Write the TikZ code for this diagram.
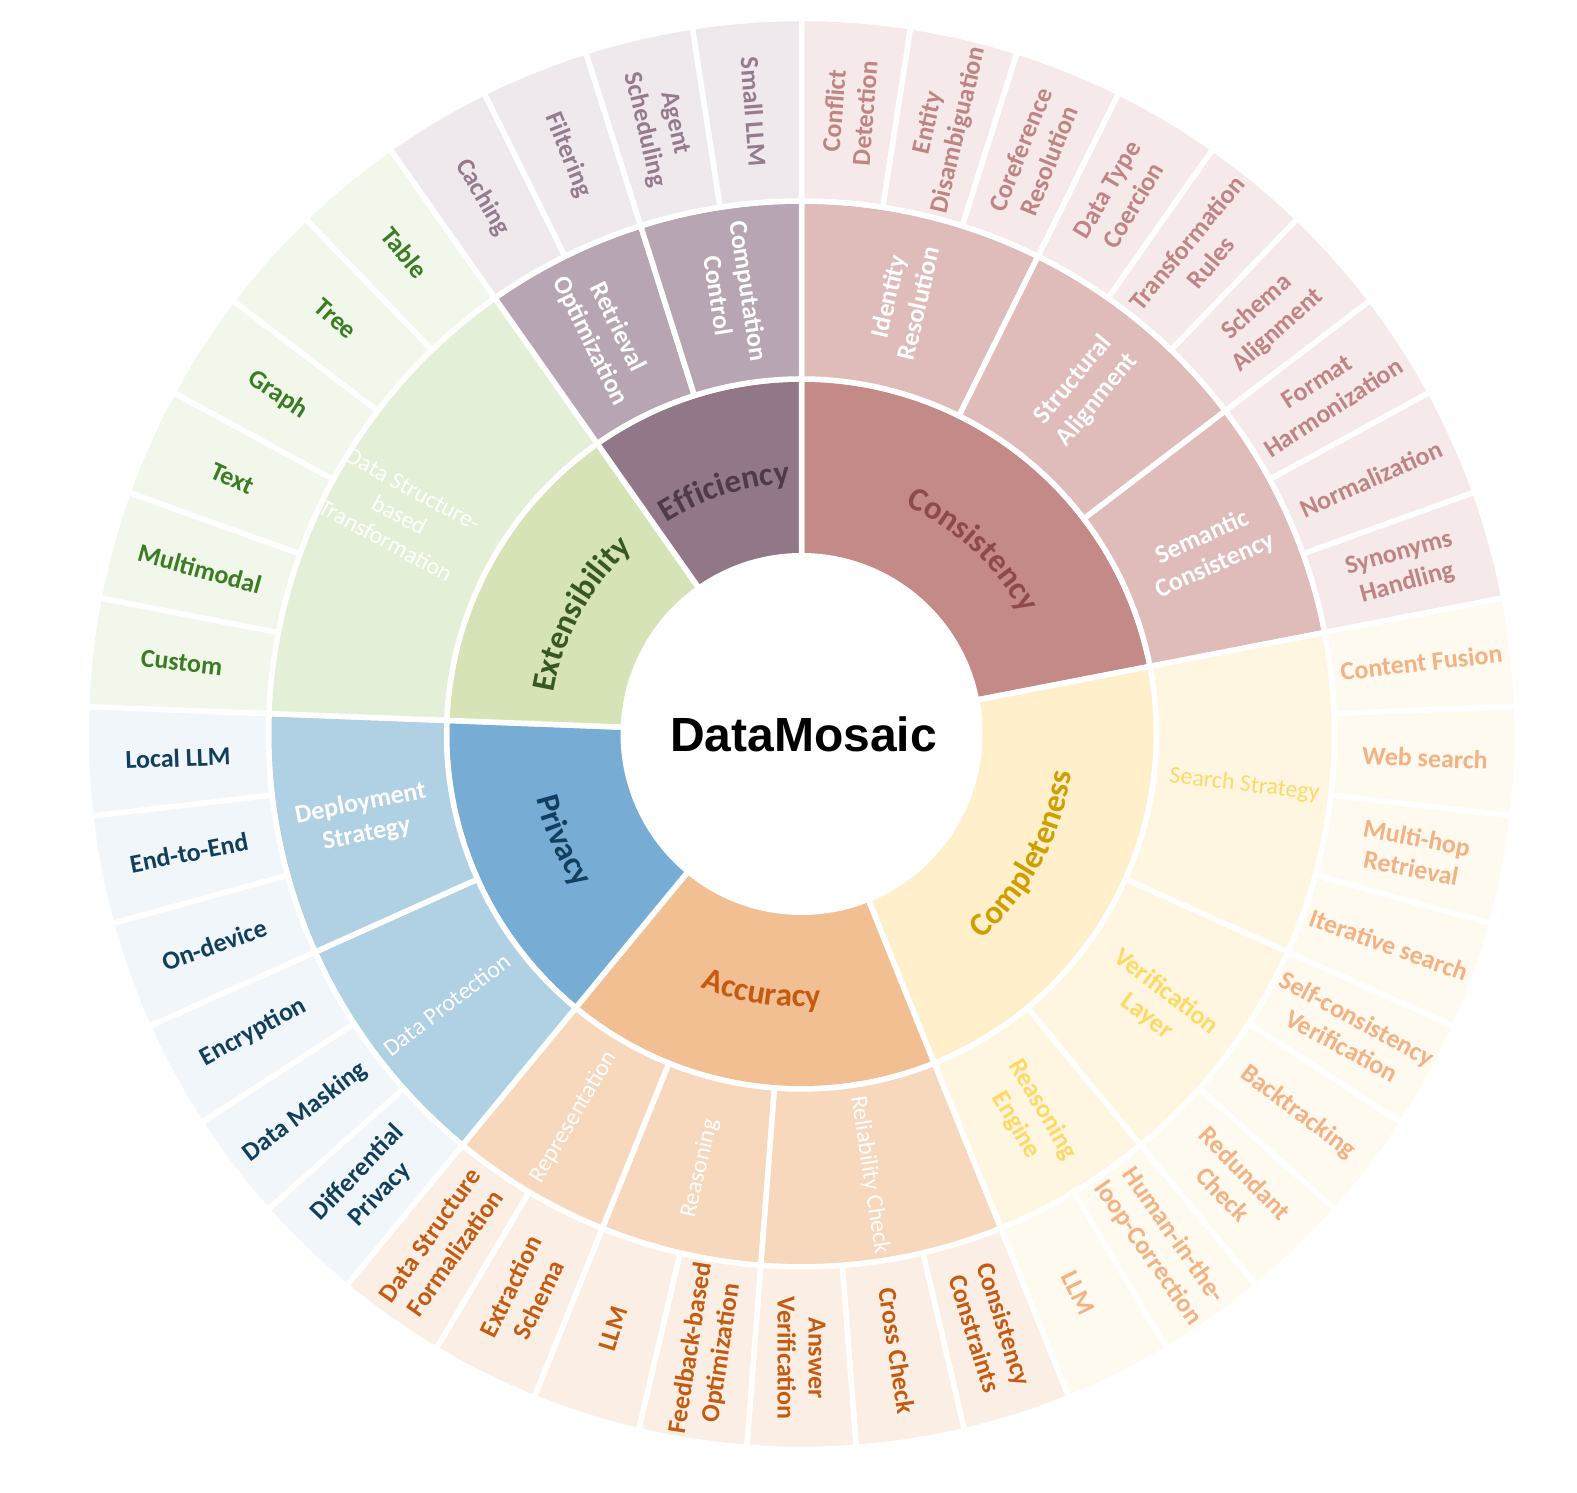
\documentclass[tikz,border=0pt]{standalone}
\usepackage{fontspec}
\setmainfont{Carlito}
\newfontfamily\titlefont{Liberation Sans}
\usetikzlibrary{decorations.text}

% Consistency
\definecolor{conA}{HTML}{C48A88}\definecolor{conB}{HTML}{DFBBBA}\definecolor{conC}{HTML}{F5E9E9}
\definecolor{conT}{HTML}{C08484}\definecolor{conS}{HTML}{FFFFFF}\definecolor{conK}{HTML}{8E4A4A}
% Completeness
\definecolor{comA}{HTML}{FFF0CB}\definecolor{comB}{HTML}{FFF6E1}\definecolor{comC}{HTML}{FFFAEF}
\definecolor{comT}{HTML}{F4B183}\definecolor{comS}{HTML}{FFD966}\definecolor{comK}{HTML}{D09E00}
% Accuracy
\definecolor{accA}{HTML}{F2BF93}\definecolor{accB}{HTML}{F7D8BD}\definecolor{accC}{HTML}{FBEEE5}
\definecolor{accT}{HTML}{C55A11}\definecolor{accS}{HTML}{FFFFFF}\definecolor{accK}{HTML}{C55A11}
% Privacy
\definecolor{priA}{HTML}{77ADD5}\definecolor{priB}{HTML}{B0D0E4}\definecolor{priC}{HTML}{F0F6FA}
\definecolor{priT}{HTML}{123F5E}\definecolor{priS}{HTML}{FFFFFF}\definecolor{priK}{HTML}{123F5E}
% Extensibility
\definecolor{extA}{HTML}{D5E3B6}\definecolor{extB}{HTML}{E3EFD7}\definecolor{extC}{HTML}{F1F7EB}
\definecolor{extT}{HTML}{3A7D22}\definecolor{extS}{HTML}{FFFFFF}\definecolor{extK}{HTML}{385723}
% Efficiency
\definecolor{effA}{HTML}{927789}\definecolor{effB}{HTML}{B8A5B3}\definecolor{effC}{HTML}{EFE9EE}
\definecolor{effT}{HTML}{957B8F}\definecolor{effS}{HTML}{FFFFFF}\definecolor{effK}{HTML}{4E3A49}

\newcommand{\catfont}{\bfseries\fontsize{33}{40}\selectfont}

\tikzset{
  wedgebox/.style={draw=white, line width=5.5pt, line join=round},
  leaflabel/.style={font=\bfseries\fontsize{26}{31}\selectfont, align=center, inner sep=0pt},
  subbold/.style={font=\bfseries\fontsize{26}{31}\selectfont, align=center, inner sep=0pt},
  subreg/.style={font=\fontsize{24}{29}\selectfont, align=center, inner sep=0pt},
  titlelabel/.style={font=\titlefont\bfseries\fontsize{48}{48}\selectfont, inner sep=0pt}
}

% wedge: start, end (in leaf units), r in, r out, fill colour
\newcommand{\sbwedge}[5]{%
  \pgfmathsetmacro\sbA{90-(#1)*360/41}%
  \pgfmathsetmacro\sbB{90-(#2)*360/41}%
  \filldraw[wedgebox, fill=#5] (\sbA:#4pt) arc[start angle=\sbA, end angle=\sbB, radius=#4pt]
    -- (\sbB:#3pt) arc[start angle=\sbB, end angle=\sbA, radius=#3pt] -- cycle;}

% curved category label: centre (compass deg), colour, text, top(1)/bottom(0)
\newcommand{\catlabel}[4]{%
  \pgfmathsetmacro\sbC{90-(#1)}%
  \ifnum#4=1
    \path[decorate, decoration={text along path, text align=center, text color=#2, text={|\catfont|#3}}]
      ({\sbC+40}:251pt) arc[start angle={\sbC+40}, end angle={\sbC-40}, radius=251pt];
  \else
    \path[decorate, decoration={text along path, text align=center, text color=#2, text={|\catfont|#3}}]
      ({\sbC-40}:273pt) arc[start angle={\sbC-40}, end angle={\sbC+40}, radius=273pt];
  \fi}

\def\leaflist{0/con/{Conflict\\Detection}, 1/con/{Entity\\Disambiguation}, 2/con/{Coreference\\Resolution},
 3/con/{Data Type\\Coercion}, 4/con/{Transformation\\Rules}, 5/con/{Schema\\Alignment},
 6/con/{Format\\Harmonization}, 7/con/{Normalization}, 8/con/{Synonyms\\Handling},
 9/com/{Content Fusion}, 10/com/{Web search}, 11/com/{Multi-hop\\Retrieval}, 12/com/{Iterative search},
 13/com/{Self-consistency\\Verification}, 14/com/{Backtracking}, 15/com/{Redundant\\Check},
 16/com/{Human-in-the-\\loop-Correction}, 17/com/{LLM},
 18/acc/{Consistency\\Constraints}, 19/acc/{Cross Check}, 20/acc/{Answer\\Verification},
 21/acc/{Feedback-based\\Optimization}, 22/acc/{LLM}, 23/acc/{Extraction\\Schema},
 24/acc/{Data Structure\\Formalization},
 25/pri/{Differential\\Privacy}, 26/pri/{Data Masking}, 27/pri/{Encryption}, 28/pri/{On-device},
 29/pri/{End-to-End}, 30/pri/{Local LLM},
 31/ext/{Custom}, 32/ext/{Multimodal}, 33/ext/{Text}, 34/ext/{Graph}, 35/ext/{Tree}, 36/ext/{Table},
 37/eff/{Caching}, 38/eff/{Filtering}, 39/eff/{Agent\\Scheduling}, 40/eff/{Small LLM}}

\def\sublist{0/3/con/subbold/{Identity\\Resolution}/446, 3/6/con/subbold/{Structural\\Alignment}/446,
 6/9/con/subbold/{Semantic\\Consistency}/446, 9/13/com/subreg/{Search Strategy}/446,
 13/16/com/subbold/{Verification\\Layer}/446, 16/18/com/subbold/{Reasoning\\Engine}/446,
 18/21/acc/subreg/{Reliability Check}/446, 21/23/acc/subreg/{Reasoning}/446,
 23/25/acc/subreg/{Representation}/446, 25/28/pri/subreg/{Data Protection}/446,
 28/31/pri/subbold/{Deployment\\Strategy}/446, 31/37/ext/subreg/{Data Structure-\\based\\Transformation}/458,
 37/39/eff/subbold/{Retrieval\\Optimization}/446, 39/41/eff/subbold/{Computation\\Control}/446}

\begin{document}
\begin{tikzpicture}
\useasboundingbox (0,0) rectangle (1577pt,1493pt);
\fill[white] (0,0) rectangle (1577pt,1493pt);
\begin{scope}[shift={(801.5pt,759pt)}]
  % category ring
  \sbwedge{0}{9}{178.25}{355}{conA}
  \sbwedge{9}{18}{178.25}{355}{comA}
  \sbwedge{18}{25}{178.25}{355}{accA}
  \sbwedge{25}{31}{178.25}{355}{priA}
  \sbwedge{31}{37}{178.25}{355}{extA}
  \sbwedge{37}{41}{178.25}{355}{effA}
  % subcategory ring
  \foreach \sa/\sb/\cc/\sty/\txt/\rr in \sublist {
    \sbwedge{\sa}{\sb}{355}{533}{\cc B}
  }
  % leaf ring
  \foreach \i/\cc/\txt in \leaflist {
    \sbwedge{\i}{\i+1}{533}{715.5}{\cc C}
  }
  % leaf labels
  \foreach \i/\cc/\txt in \leaflist {
    \pgfmathsetmacro\sbang{90-(\i+0.5)*360/41}
    \pgfmathsetmacro\sbrot{cos(\sbang) < -0.001 ? \sbang+180 : \sbang}
    \node[leaflabel, text=\cc T, rotate=\sbrot] (leaf\i) at (\sbang:624pt) {\txt};
  }
  % subcategory labels
  \foreach \sa/\sb/\cc/\sty/\txt/\rr in \sublist {
    \pgfmathsetmacro\sbang{90-(\sa+\sb)/2*360/41}
    \pgfmathsetmacro\sbrot{cos(\sbang) < -0.001 ? \sbang+180 : \sbang}
    \node[\sty, text=\cc S, rotate=\sbrot] (sub\sa) at (\sbang:\rr pt) {\txt};
  }
  % category labels (curved)
  \catlabel{43}{conK}{Consistency}{1}
  \catlabel{118.5}{comK}{Completeness}{0}
  \catlabel{188.8}{accK}{Accuracy}{0}
  \catlabel{245.9}{priK}{Privacy}{0}
  \catlabel{298.5}{extK}{Extensibility}{1}
  \catlabel{342.4}{effK}{Efficiency}{1}
  % centre title
  \node[titlelabel] (title) at (2pt,0pt) {DataMosaic};
\end{scope}
\end{tikzpicture}
\end{document}
